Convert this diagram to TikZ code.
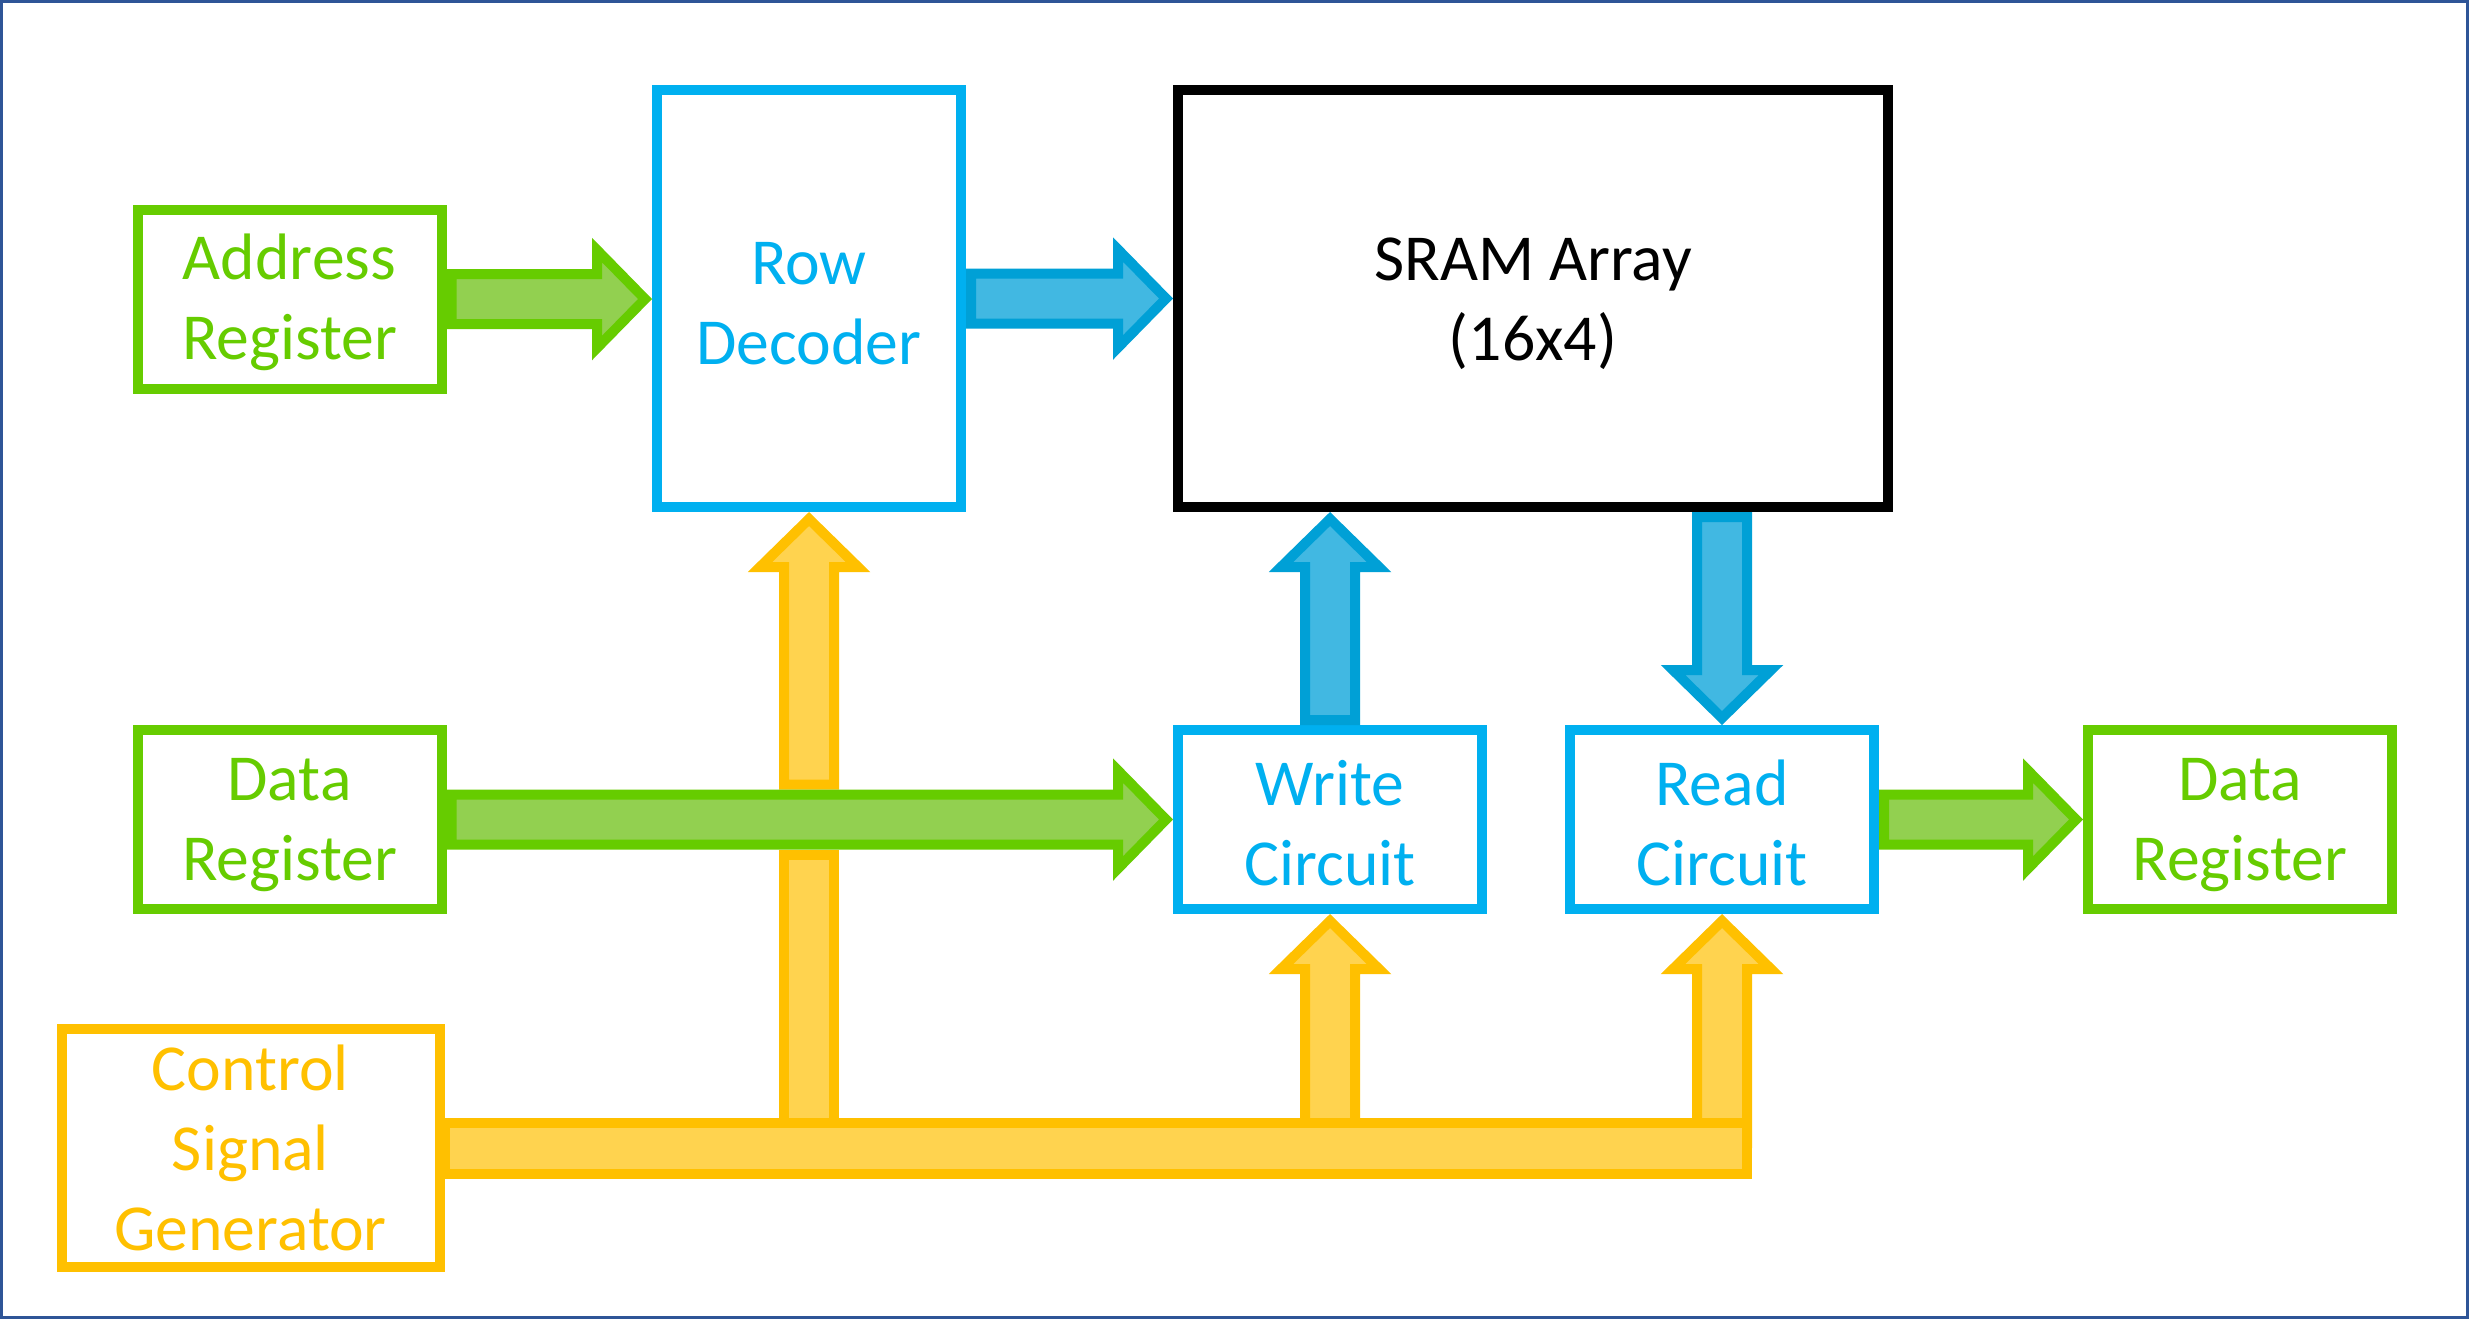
\documentclass[tikz,border=0pt]{standalone}
\usepackage{fontspec}
\setmainfont{Carlito}
\usetikzlibrary{calc}
\definecolor{cgreen}{HTML}{66CC00}
\definecolor{cgreenfill}{HTML}{92D050}
\definecolor{cblue}{HTML}{00B0F0}
\definecolor{cbluearr}{HTML}{00A0D6}
\definecolor{cbluefill}{HTML}{41B8E2}
\definecolor{corange}{HTML}{FFC000}
\definecolor{corangefill}{HTML}{FFD34F}
\definecolor{cframe}{HTML}{2F5597}

% block arrows: style, from, to   (anchors lie on the outer edge of the box border)
\newcommand\RArrow[3]{\draw[#1] let \p1=(#2), \p2=(#3) in
  (\x1+1.5pt,\y1+7.5pt) -- (\x2-16.5pt,\y1+7.5pt) -- (\x2-16.5pt,\y1+14.7pt) -- (\x2-2.1pt,\y1)
  -- (\x2-16.5pt,\y1-14.7pt) -- (\x2-16.5pt,\y1-7.5pt) -- (\x1+1.5pt,\y1-7.5pt) -- cycle;}
\newcommand\UArrow[3]{\draw[#1] let \p1=(#2), \p2=(#3) in
  (\x1-7.5pt,\y1+1.5pt) -- (\x1-7.5pt,\y2-16.5pt) -- (\x1-14.7pt,\y2-16.5pt) -- (\x1,\y2-2.1pt)
  -- (\x1+14.7pt,\y2-16.5pt) -- (\x1+7.5pt,\y2-16.5pt) -- (\x1+7.5pt,\y1+1.5pt) -- cycle;}
\newcommand\DArrow[3]{\draw[#1] let \p1=(#2), \p2=(#3) in
  (\x1-7.5pt,\y1-1.5pt) -- (\x1-7.5pt,\y2+16.5pt) -- (\x1-14.7pt,\y2+16.5pt) -- (\x1,\y2+2.1pt)
  -- (\x1+14.7pt,\y2+16.5pt) -- (\x1+7.5pt,\y2+16.5pt) -- (\x1+7.5pt,\y1-1.5pt) -- cycle;}
\newcommand\toplift{\rule{0pt}{15.8pt}}
\newcommand\toplifts{\rule{0pt}{13.5pt}}

\begin{document}
\begin{tikzpicture}[x=0.3pt,y=-0.3pt,
  box/.style={draw, line width=3pt, inner sep=0pt, align=center,
    font=\fontsize{19.7}{24pt}\selectfont, minimum width=91.2pt, minimum height=53.7pt},
  gbox/.style={box, draw=cgreen, text=cgreen},
  bbox/.style={box, draw=cblue, text=cblue},
  obox/.style={box, draw=corange, text=corange},
  kbox/.style={box, draw=black, text=black},
  garr/.style={draw=cgreen, fill=cgreenfill, line width=3pt},
  barr/.style={draw=cbluearr, fill=cbluefill, line width=3pt},
  oarr/.style={draw=corange, fill=corangefill, line width=3pt}]
\useasboundingbox (0,0) rectangle (2469,1319);
\fill[white] (0,0) rectangle (2469,1319);
\draw[cframe, line width=0.9pt] (1.5,1.5) rectangle (2467.5,1317.5);

\node[gbox] (addr) at (289.5,299) {\toplift Address\\Register};
\node[bbox, minimum height=125.1pt] (rowdec) at (809,298.5) {\toplift Row\\Decoder};
\node[kbox, minimum width=213pt, minimum height=125.1pt] (sram) at (1533,298.5) {\toplift SRAM Array\\(16x4)};
\node[gbox] (datal) at (289.5,819.5) {\toplift Data\\Register};
\node[bbox] (write) at (1330,819.5) {\toplift Write\\Circuit};
\node[bbox] (read) at (1722,819.5) {\toplift Read\\Circuit};
\node[gbox] (datar) at (2240,819.5) {\toplift Data\\Register};
\node[obox, minimum width=113.4pt, minimum height=71.4pt] (ctrl) at (250.5,1148) {\toplifts Control\\Signal\\Generator};

% control signals
\draw[oarr] ($(rowdec.south |- ctrl.east)+(-25,0)$) rectangle ($(rowdec.south |- datal.east)+(25,35)$);
\UArrow{oarr}{$(rowdec.south |- datal.east)+(0,-30)$}{rowdec.south}
\UArrow{oarr}{write.south |- ctrl.east}{write.south}
\UArrow{oarr}{read.south |- ctrl.east}{read.south}
\draw[oarr] ($(ctrl.east)+(0,-25.5)$) rectangle ($(read.south |- ctrl.east)+(25,25.5)$);

% data / address paths
\RArrow{garr}{addr.east}{rowdec.west}
\RArrow{garr}{datal.east}{write.west}
\RArrow{garr}{read.east}{datar.west}
\RArrow{barr}{rowdec.east}{sram.west}
\UArrow{barr}{write.north}{write.north |- sram.south}
\DArrow{barr}{read.north |- sram.south}{read.north}
\end{tikzpicture}
\end{document}
